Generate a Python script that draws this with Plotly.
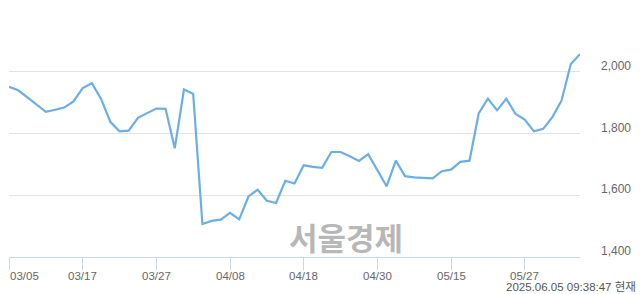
import plotly.graph_objects as go

# Data (trading days 2025-03-05 .. 2025-06-05)
prices = [1951, 1940, 1917, 1894, 1870, 1877, 1884, 1904, 1947, 1963,
          1912, 1838, 1807, 1809, 1851, 1866, 1881, 1880, 1752, 1943,
          1928, 1507, 1517, 1521, 1543, 1522, 1596, 1618, 1582, 1575,
          1647, 1638, 1697, 1692, 1689, 1740, 1740, 1726, 1711, 1733,
          1682, 1629, 1712, 1662, 1658, 1657, 1655, 1678, 1683, 1708,
          1712, 1865, 1913, 1875, 1913, 1863, 1845, 1807, 1815, 1853,
          1907, 2025, 2057]
x_idx = list(range(len(prices)))

tick_pos = [0, 8, 16, 24, 32, 40, 48, 56]
tick_labels = ["03/05", "03/17", "03/27", "04/08", "04/18", "04/30", "05/15", "05/27"]

y_ticks = [1400, 1600, 1800, 2000, 2200]
y_labels = ["1,400", "1,600", "1,800", "2,000", ""]

timestamp = "2025.06.05 09:38:47 현재"
watermark = "서울경제"

fig = go.Figure()
fig.add_trace(go.Scatter(
    x=x_idx, y=prices, mode="lines",
    line=dict(color="#6aaee9", width=2.2),
    hoverinfo="skip",
))

annotations = []
for i, (p, t) in enumerate(zip(tick_pos, tick_labels)):
    annotations.append(dict(
        x=p, y=0, xref="x", yref="paper", text=t, showarrow=False,
        xanchor="left" if i == 0 else "center", yanchor="top", yshift=-12,
        borderpad=0,
        font=dict(family="Liberation Sans", size=11.5, color="#666666"),
    ))
annotations.append(dict(
    x=1, y=0, xref="paper", yref="paper", text=timestamp, showarrow=False,
    xanchor="right", yanchor="middle", xshift=57, yshift=-30,
    borderpad=0,
    font=dict(family="Liberation Sans, Noto Sans CJK KR", size=11.5, color="#555555"),
))
annotations.append(dict(
    x=36.6, y=1468, xref="x", yref="y", text="<b>" + watermark + "</b>", showarrow=False,
    xanchor="center", yanchor="middle",
    font=dict(family="Noto Sans CJK KR", size=31, color="rgba(160,160,160,0.75)"),
))

fig.update_layout(
    width=640, height=294,
    margin=dict(l=9, r=60, t=10, b=37),
    paper_bgcolor="white", plot_bgcolor="white",
    showlegend=False,
    annotations=annotations,
    xaxis=dict(
        range=[0, len(prices) - 1], tickvals=tick_pos, ticktext=[""] * len(tick_pos),
        showticklabels=False, ticks="outside", ticklen=12, tickcolor="#c6d6ec", tickwidth=1,
        showline=True, linecolor="#c6d6ec", linewidth=1,
        showgrid=False, zeroline=False, fixedrange=True,
    ),
    yaxis=dict(
        range=[1400, 2200], side="right", tickvals=y_ticks, ticktext=y_labels,
        showgrid=True, gridcolor="#e3e3e3", gridwidth=1, zeroline=False,
        showline=False, ticks="", ticklabelstandoff=20, ticklabelshift=-6,
        tickfont=dict(family="Liberation Sans", size=12, color="#666666"),
        fixedrange=True,
    ),
)

fig.write_html("out.html")
